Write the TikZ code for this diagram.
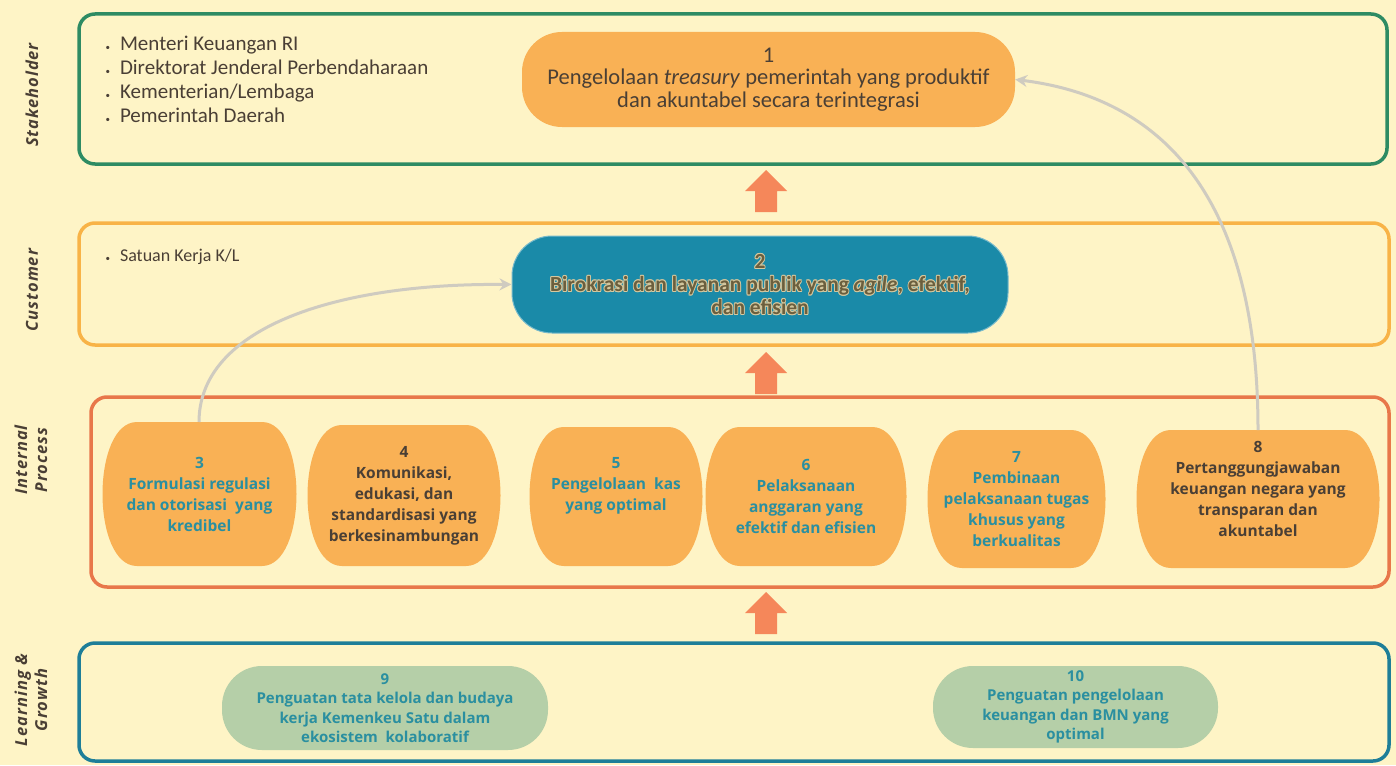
\documentclass[tikz,border=0pt]{standalone}
\usepackage{fontspec}
\setmainfont{Open Sans}
\newfontfamily\narrowf{Carlito}
\newfontfamily\labf[LetterSpace=6]{Open Sans}
\usetikzlibrary{arrows.meta}
\definecolor{bg}{HTML}{FEF4C6}
\definecolor{bgreen}{HTML}{2E8B63}
\definecolor{borange}{HTML}{F8B347}
\definecolor{bred}{HTML}{E8774A}
\definecolor{bteal}{HTML}{1E7E98}
\definecolor{nor}{HTML}{F9B155}
\definecolor{nteal}{HTML}{1A8AA8}
\definecolor{tteal}{HTML}{2A8FA0}
\definecolor{tdark}{HTML}{4A3F35}
\definecolor{ttwo}{HTML}{6B5F3E}
\definecolor{thalo}{HTML}{D6C89E}
\definecolor{nsage}{HTML}{B5CFA8}
\definecolor{barr}{HTML}{F5875A}
\definecolor{garr}{HTML}{CFCBC0}
\def\mybarrel#1#2#3#4{%
  \fill[nor] (#1+34,#2) -- (#3-34,#2) .. controls (#3+12,#2) and (#3+12,#4) .. (#3-34,#4)
    -- (#1+34,#4) .. controls (#1-12,#4) and (#1-12,#2) .. (#1+34,#2) -- cycle;}
\def\ntwotext{2\\Birokrasi dan layanan publik yang \textit{agile}, efektif,\\dan efisien}
\tikzset{
  x=1pt, y=-1pt,
  band/.style={draw, line width=3.5pt, rounded corners=16pt},
  sidelab/.style={rotate=90, align=center, text=tdark, font=\labf\bfseries\itshape\fontsize{16.5}{20}\selectfont},
  pill/.style={rounded corners=40pt, align=center},
  ptext/.style={align=center, font=\bfseries\fontsize{15.5}{21}\selectfont, text=tteal},
  pdark/.style={align=center, font=\bfseries\fontsize{15.5}{21}\selectfont, text=tdark},
  twofont/.style={align=center, font=\narrowf\bfseries\fontsize{21.5}{23}\selectfont},
  blockarr/.style={fill=barr},
  flow/.style={draw=garr, line width=3pt, -{Stealth[length=12pt,width=12pt]}},
}
\begin{document}
\begin{tikzpicture}
\fill[bg] (0,0) rectangle (1396,765);
\useasboundingbox (0,0) rectangle (1396,765);
% bands
\draw[band, bgreen] (79,14) rectangle (1387,164);
\draw[band, borange] (79,223) rectangle (1389,345);
\draw[band, bred] (91,397) rectangle (1389,587);
\draw[band, bteal] (79,643) rectangle (1389,761);
% side labels
\node[sidelab] (lab1) at (32,95) {Stakeholder};
\node[sidelab] (lab2) at (32,290) {Customer};
\node[sidelab] (lab3) at (31,460) {Internal\\Process};
\node[sidelab] (lab4) at (31,700) {Learning \&\\Growth};
% bullets
\node[anchor=north west, align=left, text=tdark, font=\narrowf\fontsize{21}{24}\selectfont] (blist1) at (102,33)
 {{\small\textbullet}\hspace{10pt}Menteri Keuangan RI\\
  {\small\textbullet}\hspace{10pt}Direktorat Jenderal Perbendaharaan\\
  {\small\textbullet}\hspace{10pt}Kementerian/Lembaga\\
  {\small\textbullet}\hspace{10pt}Pemerintah Daerah};
\node[anchor=north west, align=left, text=tdark, font=\narrowf\fontsize{18}{22}\selectfont] (blist2) at (102,245)
 {{\small\textbullet}\hspace{10pt}Satuan Kerja K/L};
% node 1 and 2
\node[pill, fill=nor, minimum width=493pt, minimum height=95pt, text=tdark, font=\narrowf\fontsize{22.5}{22.5}\selectfont] (n1) at (768.5,79.5)
 {1\\Pengelolaan \textit{treasury} pemerintah yang produktif\\dan akuntabel secara terintegrasi};
\node[pill, fill=nteal, draw=nteal!60!white, line width=1pt, minimum width=496pt, minimum height=97pt] (n2) at (760,284.5) {};
\foreach \dx/\dy in {0.9/0, -0.9/0, 0/0.9, 0/-0.9, 0.65/0.65, -0.65/0.65, 0.65/-0.65, -0.65/-0.65}
  \node[twofont, text=thalo] at ([shift={(\dx,\dy)}]n2.center) {\ntwotext};
\node[twofont, text=ttwo] (n2t) at (n2.center) {\ntwotext};
% block arrows
\foreach \yt/\nm in {170/ba1, 352/ba2, 592/ba3}{
  \fill[blockarr] (745,\yt+21) -- (766,\yt) -- (787,\yt+21) -- (777,\yt+21) -- (777,\yt+42) -- (755,\yt+42) -- (755,\yt+21) -- cycle;
}
% process nodes
\mybarrel{103}{422}{296}{566}
\node[ptext] (n3) at (199.5,494) {3\\Formulasi regulasi\\dan otorisasi~ yang\\kredibel};
\mybarrel{308}{425}{500}{566}
\node[pdark] (n4) at (404,495.5) {4\\Komunikasi,\\edukasi, dan\\standardisasi yang\\berkesinambungan};
\mybarrel{530}{427}{702}{566}
\node[ptext] (n5) at (616,486) {5\\Pengelolaan~ kas\\yang optimal};
\mybarrel{706}{427}{906}{566}
\node[ptext] (n6) at (806,496.5) {6\\Pelaksanaan\\anggaran yang\\efektif dan efisien};
\mybarrel{928}{430}{1105}{568}
\node[ptext] (n7) at (1016.5,499) {7\\Pembinaan\\pelaksanaan tugas\\khusus yang\\berkualitas};
\mybarrel{1137}{430}{1379}{568}
\node[pdark] (n8) at (1258,489) {8\\Pertanggungjawaban\\keuangan negara yang\\transparan dan\\akuntabel};
\coordinate (n3top) at (199,422);
\coordinate (n8top) at (1258,430);
% learning nodes
\node[pill, fill=nsage, minimum width=326pt, minimum height=84pt, text=tteal, font=\bfseries\fontsize{15}{19.5}\selectfont] (n9) at (385,708)
 {9\\Penguatan tata kelola dan budaya\\kerja Kemenkeu Satu dalam\\ekosistem~ kolaboratif};
\node[pill, fill=nsage, minimum width=285pt, minimum height=82pt, text=tteal, font=\bfseries\fontsize{15}{19.5}\selectfont] (n10) at (1075.5,707)
 {10\\Penguatan pengelolaan\\keuangan dan BMN yang\\optimal};
% grey flows
\draw[flow] (n3top) .. controls (199,330) and (330,283) .. (n2.west);
\draw[flow] (n8top) .. controls (1258,220) and (1180,100) .. (n1.east);
\end{tikzpicture}
\end{document}
